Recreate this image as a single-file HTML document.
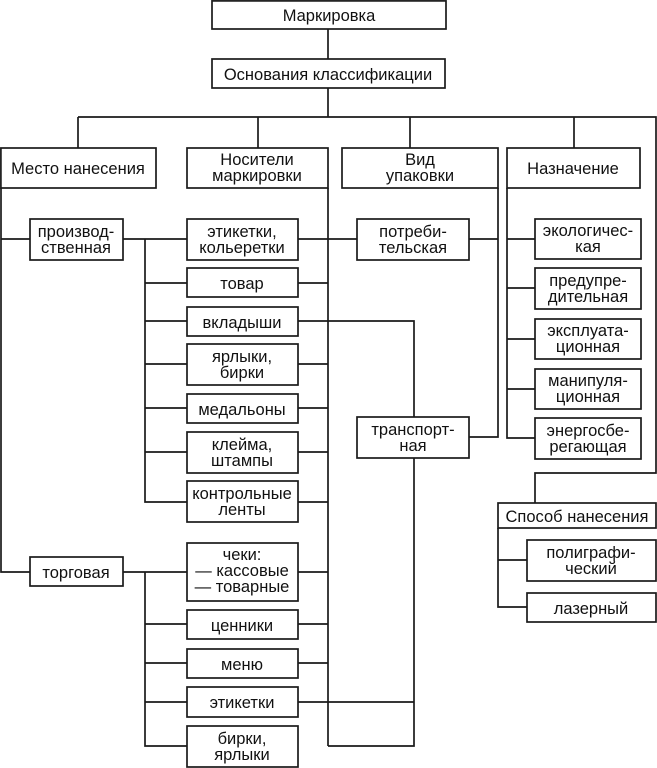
<!DOCTYPE html>
<html><head><meta charset="utf-8"><style>
html,body{margin:0;padding:0;background:#fff}
svg{display:block}
text{font-family:"Liberation Sans",sans-serif;font-size:16.5px;fill:#111;text-anchor:middle}
</style></head><body>
<svg width="657" height="768" viewBox="0 0 657 768" xmlns="http://www.w3.org/2000/svg">
<g fill="none" stroke="#1a1a1a" stroke-width="1.7">
<path d="M328 29V59M328 88V117M78 117H656V473H535V503M78 117V148M258 117V148M410 117V148M574 117V148"/>
<path d="M1 188V572H30M1 239H30M123 239H187M145 239V502H187M145 283H187M145 321H187M145 364H187M145 408H187M145 452H187M123 572H187M145 572V746H187M145 624H187M145 663H187M145 702H187"/>
<path d="M328 188V746M298 239H357M298 283H328M298 321H414V746H328M298 364H328M298 408H328M298 452H328M298 502H328M298 572H328M298 624H328M298 663H328M298 702H414"/>
<path d="M498 188V437H469M469 239H498"/>
<path d="M507 188V438H535M507 239H535M507 288H535M507 339H535M507 389H535"/>
<path d="M498 528V607H527M498 560H527"/>
</g>
<g fill="#fff" stroke="#1a1a1a" stroke-width="1.7">
<rect x="212" y="0.9" width="234" height="28.1"/>
<rect x="212" y="59" width="233" height="29"/>
<rect x="0.9" y="148" width="155.1" height="40"/>
<rect x="187" y="148" width="141" height="40"/>
<rect x="342" y="148" width="156" height="40"/>
<rect x="507" y="148" width="133" height="40"/>
<rect x="30" y="219" width="93" height="41"/>
<rect x="30" y="557" width="93" height="29"/>
<rect x="187" y="219" width="111" height="41"/>
<rect x="187" y="268" width="111" height="29"/>
<rect x="187" y="307" width="111" height="29"/>
<rect x="187" y="344" width="111" height="41"/>
<rect x="187" y="394" width="111" height="29"/>
<rect x="187" y="432" width="111" height="41"/>
<rect x="187" y="481" width="111" height="41"/>
<rect x="187" y="543" width="111" height="58"/>
<rect x="187" y="610" width="111" height="29"/>
<rect x="187" y="649" width="111" height="29"/>
<rect x="187" y="687" width="111" height="30"/>
<rect x="187" y="726" width="111" height="41"/>
<rect x="357" y="219" width="112" height="41"/>
<rect x="357" y="417" width="112" height="41"/>
<rect x="535" y="219" width="106" height="40"/>
<rect x="535" y="268" width="106" height="41"/>
<rect x="535" y="319" width="106" height="40"/>
<rect x="535" y="369" width="106" height="40"/>
<rect x="535" y="418" width="106" height="41"/>
<rect x="498" y="503" width="158" height="25"/>
<rect x="527" y="540" width="129" height="41"/>
<rect x="527" y="593" width="129" height="29"/>
</g>
<text x="329" y="21">Маркировка</text>
<text x="328" y="80">Основания классификации</text>
<text x="78" y="174">Место нанесения</text>
<text x="257" y="165">Носители</text><text x="257" y="181">маркировки</text>
<text x="420" y="165">Вид</text><text x="420" y="181">упаковки</text>
<text x="573" y="174">Назначение</text>
<text x="76" y="237">производ-</text><text x="76" y="253">ственная</text>
<text x="76" y="578">торговая</text>
<text x="242" y="237">этикетки,</text><text x="242" y="253">кольеретки</text>
<text x="242" y="289">товар</text>
<text x="242" y="328">вкладыши</text>
<text x="242" y="362">ярлыки,</text><text x="242" y="378">бирки</text>
<text x="242" y="415">медальоны</text>
<text x="242" y="450">клейма,</text><text x="242" y="466">штампы</text>
<text x="242" y="499">контрольные</text><text x="242" y="515">ленты</text>
<text x="242" y="560">чеки:</text><text x="242" y="576">— кассовые</text><text x="242" y="592">— товарные</text>
<text x="242" y="631">ценники</text>
<text x="242" y="670">меню</text>
<text x="242" y="708">этикетки</text>
<text x="242" y="744">бирки,</text><text x="242" y="760">ярлыки</text>
<text x="413" y="237">потреби-</text><text x="413" y="253">тельская</text>
<text x="413" y="435">транспорт-</text><text x="413" y="451">ная</text>
<text x="588" y="236">экологичес-</text><text x="588" y="252">кая</text>
<text x="588" y="286">предупре-</text><text x="588" y="302">дительная</text>
<text x="588" y="336">эксплуата-</text><text x="588" y="352">ционная</text>
<text x="588" y="386">манипуля-</text><text x="588" y="402">ционная</text>
<text x="588" y="436">энергосбе-</text><text x="588" y="452">регающая</text>
<text x="577" y="522">Способ нанесения</text>
<text x="591" y="558">полиграфи-</text><text x="591" y="574">ческий</text>
<text x="591" y="614">лазерный</text>
</svg>
</body></html>
